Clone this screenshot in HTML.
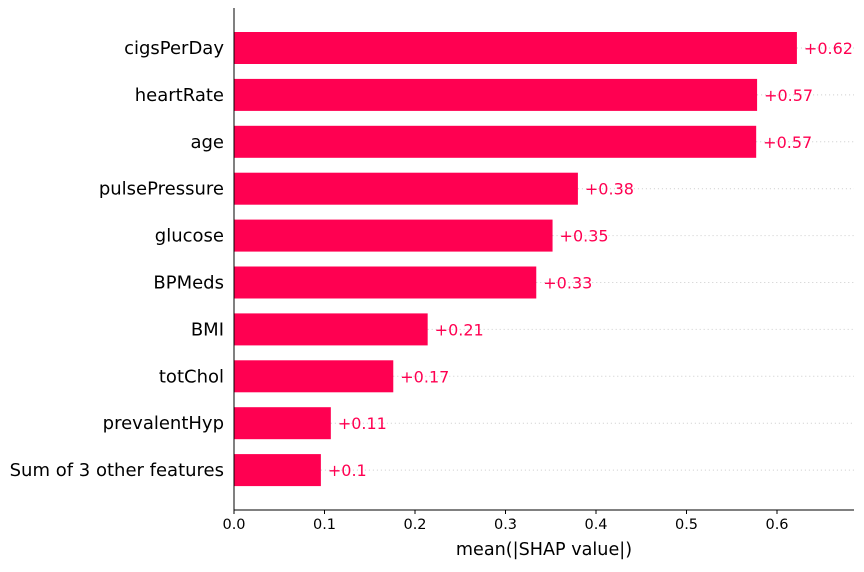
<!DOCTYPE html>
<html><head><meta charset="utf-8"><style>
body{margin:0;background:#fff;width:864px;height:568px;overflow:hidden;font-family:"DejaVu Sans","Liberation Sans",sans-serif}
</style></head><body>
<svg id="chart" width="864" height="568" xmlns="http://www.w3.org/2000/svg"></svg>
<script>
const features=["cigsPerDay","heartRate","age","pulsePressure","glucose","BPMeds","BMI","totChol","prevalentHyp","Sum of 3 other features"];
const values=[0.622,0.578,0.577,0.380,0.352,0.334,0.214,0.176,0.107,0.096];
const valueLabels=["+0.62","+0.57","+0.57","+0.38","+0.35","+0.33","+0.21","+0.17","+0.11","+0.1"];
const ticks=[0,0.1,0.2,0.3,0.4,0.5,0.6];
const tickLabels=["0.0","0.1","0.2","0.3","0.4","0.5","0.6"];

const svg=document.getElementById('chart');
const NS='http://www.w3.org/2000/svg';
const x0=234,xr=854,scale=905,top0=48,step=46.9,bh=32,axisY=510;
const X=v=>x0+v*scale, Y=i=>top0+i*step;
function mk(t,a,txt){const e=document.createElementNS(NS,t);for(const k in a)e.setAttribute(k,a[k]);if(txt!==undefined)e.textContent=txt;svg.appendChild(e);return e;}
features.forEach((f,i)=>{
  const y=Y(i);
  const g=mk('line',{x1:X(values[i]),x2:xr,y1:y,y2:y,stroke:'#ccc','stroke-width':1,'stroke-dasharray':'1,3'});
  
  
  const r=mk('rect',{x:x0,y:y-bh/2,width:X(values[i])-x0,height:bh,fill:'#ff0051'});
  
  
  const l=mk('text',{x:x0-10,y:y+6,'text-anchor':'end','font-size':18,fill:'#000'},f);
  
  
  const v=mk('text',{x:X(values[i])+7,y:y+6,'font-size':16,fill:'#ff0051'},valueLabels[i]);
  
  
});
const ya=mk('line',{x1:x0,x2:x0,y1:8,y2:axisY,stroke:'#000','stroke-width':1});


const xa=mk('line',{x1:x0,x2:xr,y1:axisY,y2:axisY,stroke:'#000','stroke-width':1});


ticks.forEach((t,i)=>{
  const tk=mk('line',{x1:X(t),x2:X(t),y1:axisY,y2:axisY+4,stroke:'#000'});
  
  
  const tl=mk('text',{x:X(t),y:axisY+19,'text-anchor':'middle','font-size':14.5,fill:'#000'},tickLabels[i]);
  
  
});
const title=mk('text',{x:544,y:555,'text-anchor':'middle','font-size':17.6,fill:'#000'},'mean(|SHAP value|)');


</script>
</body></html>
